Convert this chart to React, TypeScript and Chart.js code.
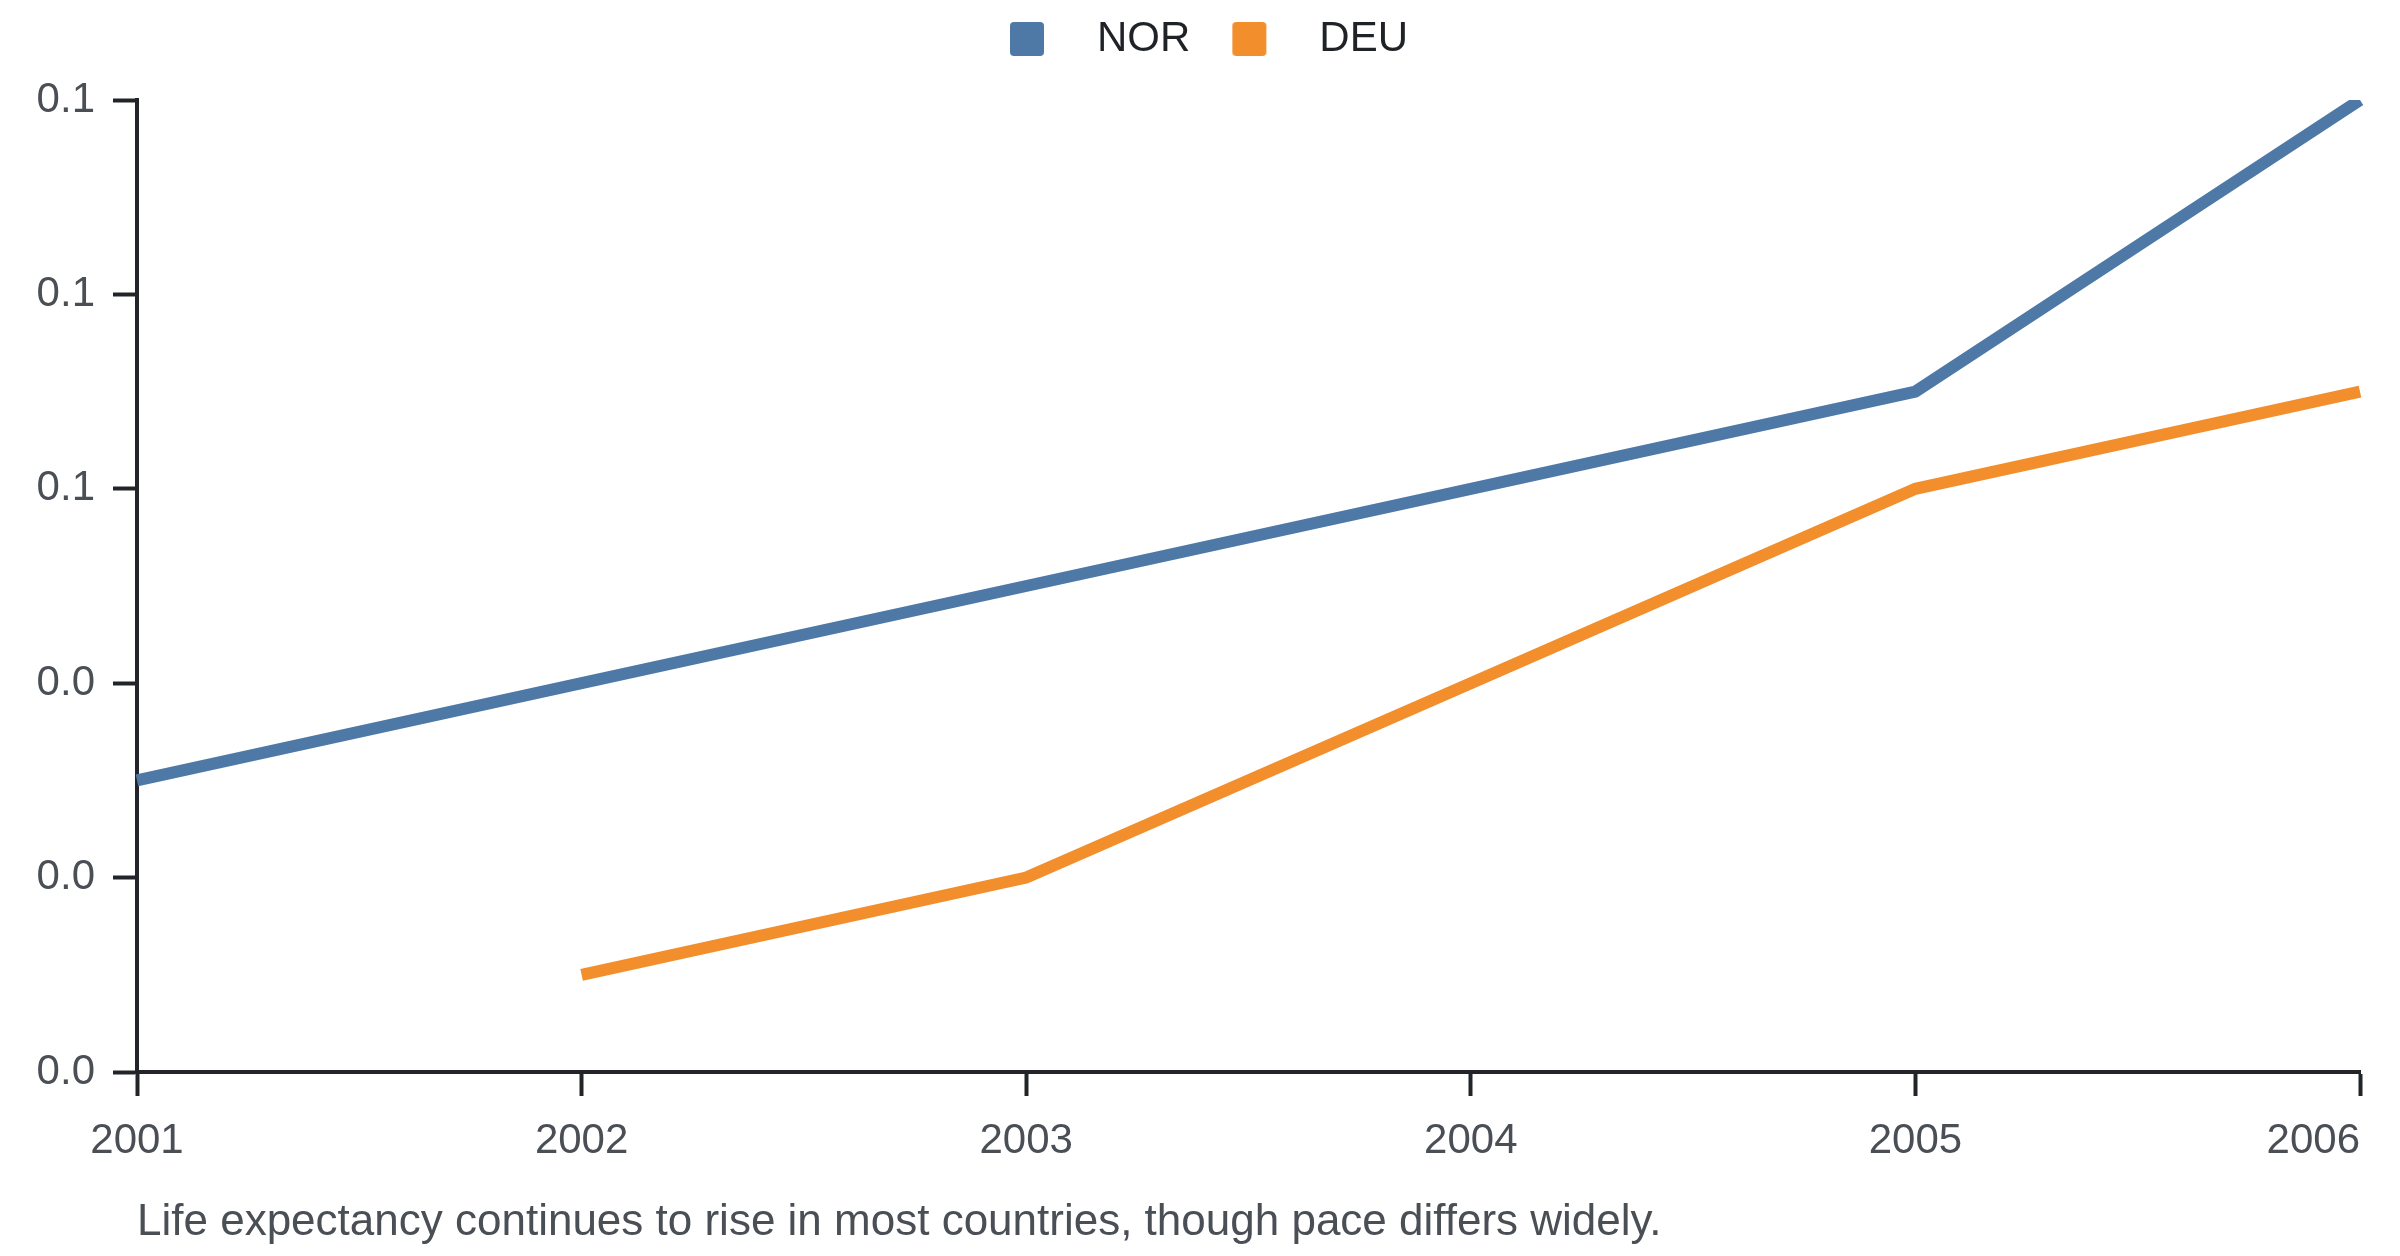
import React, { useEffect, useRef } from "react"
import { Chart, registerables } from "chart.js"
import type { ChartConfiguration, Plugin } from "chart.js"

Chart.register(...registerables)

// data
const years = ["2001", "2002", "2003", "2004", "2005", "2006"]
const norValues = [0.03, 0.04, 0.05, 0.06, 0.07, 0.1]
const deuValues = [null, 0.01, 0.02, 0.04, 0.06, 0.07]
const seriesNames = ["NOR", "DEU"]
const yMin = 0
const yMax = 0.1
const yStep = 0.02
const caption = "Life expectancy continues to rise in most countries, though pace differs widely."

// look
const FONT = "'Liberation Sans', Arial, Helvetica, sans-serif"
const AXIS = "#212428"
const LABEL = "#4a4f56"
const LEGEND_TEXT = "#1f2226"
const NOR_COLOR = "#4e79a7"
const DEU_COLOR = "#f28e2b"

// legend swatch: square sitting inside a wider transparent strip, so the
// gap between swatch and text matches the original
function swatch(color: string) {
    const c = document.createElement("canvas")
    c.width = 98
    c.height = 34
    const g = c.getContext("2d") as CanvasRenderingContext2D
    g.fillStyle = color
    g.beginPath()
    g.roundRect(32, 0, 34, 34, 4)
    g.fill()
    return c
}

// x tick labels (last one kept inside the canvas) and the caption
const textPlugin: Plugin<"line"> = {
    id: "textPlugin",
    afterDraw(chart) {
        const { ctx, chartArea } = chart
        const x = chart.scales.x
        ctx.save()
        ctx.font = `42px ${FONT}`
        ctx.fillStyle = LABEL
        ctx.textBaseline = "middle"
        years.forEach((label, i) => {
            const px = x.getPixelForTick(i)
            const half = ctx.measureText(label).width / 2
            ctx.textAlign = px + half > chart.width ? "right" : "center"
            ctx.fillText(label, px, x.top + 69)
        })
        ctx.font = `44px ${FONT}`
        ctx.textAlign = "left"
        ctx.textBaseline = "alphabetic"
        ctx.fillText(caption, chartArea.left, chartArea.bottom + 163)
        ctx.restore()
    },
}

export default function App() {

    const canvasRef = useRef<HTMLCanvasElement>(null)
    const chartRef = useRef<Chart>()

    useEffect(() => {
        const config: ChartConfiguration<"line"> = {
            type: "line",
            data: {
                labels: years,
                datasets: [
                    {
                        label: seriesNames[0],
                        data: norValues,
                        borderColor: NOR_COLOR,
                        backgroundColor: NOR_COLOR,
                        borderWidth: 12,
                        pointRadius: 0,
                        pointHoverRadius: 0,
                        pointStyle: swatch(NOR_COLOR),
                        tension: 0,
                        fill: false,
                    },
                    {
                        label: seriesNames[1],
                        data: deuValues,
                        borderColor: DEU_COLOR,
                        backgroundColor: DEU_COLOR,
                        borderWidth: 12,
                        pointRadius: 0,
                        pointHoverRadius: 0,
                        pointStyle: swatch(DEU_COLOR),
                        tension: 0,
                        fill: false,
                    },
                ],
            },
            options: {
                animation: false,
                responsive: true,
                maintainAspectRatio: false,
                events: [],
                layout: { padding: { top: 0, left: 18, right: 32, bottom: 0 } },
                plugins: {
                    legend: {
                        position: "top",
                        labels: {
                            usePointStyle: true,
                            pointStyleWidth: 98,
                            padding: 10,
                            color: LEGEND_TEXT,
                            font: { size: 42, family: FONT },
                        },
                    },
                    // empty title under the legend, only used as a gap above the plot
                    title: {
                        display: true,
                        text: "",
                        position: "top",
                        weight: 100,
                        padding: 0,
                        font: { size: 30, lineHeight: 1, family: FONT },
                    },
                    tooltip: { enabled: false },
                },
                scales: {
                    x: {
                        type: "category",
                        grid: {
                            display: true,
                            drawOnChartArea: false,
                            drawTicks: true,
                            tickLength: 24,
                            tickWidth: 4,
                            tickColor: AXIS,
                        },
                        border: { display: true, width: 4, color: AXIS },
                        ticks: { display: false },
                        afterFit: (s) => { s.height = 176 },
                    },
                    y: {
                        min: yMin,
                        max: yMax,
                        grid: {
                            drawOnChartArea: false,
                            drawTicks: true,
                            tickLength: 24,
                            tickWidth: 4,
                            tickColor: AXIS,
                        },
                        border: { display: true, width: 4, color: AXIS },
                        ticks: {
                            stepSize: yStep,
                            padding: 18,
                            color: LABEL,
                            font: { size: 42, family: FONT },
                            callback: (v) => Number(v).toFixed(1),
                        },
                        afterFit: (s) => { s.width = 111 },
                    },
                },
            },
            plugins: [textPlugin],
        }

        chartRef.current?.destroy()
        chartRef.current = new Chart(canvasRef.current as HTMLCanvasElement, config as any)

        return () => {
            chartRef.current?.destroy()
        }
    }, [])

    return (
        <div style={{ position: "relative", width: 2384, height: 1240 }}>
            <canvas ref={canvasRef}></canvas>
        </div>
    )
}
